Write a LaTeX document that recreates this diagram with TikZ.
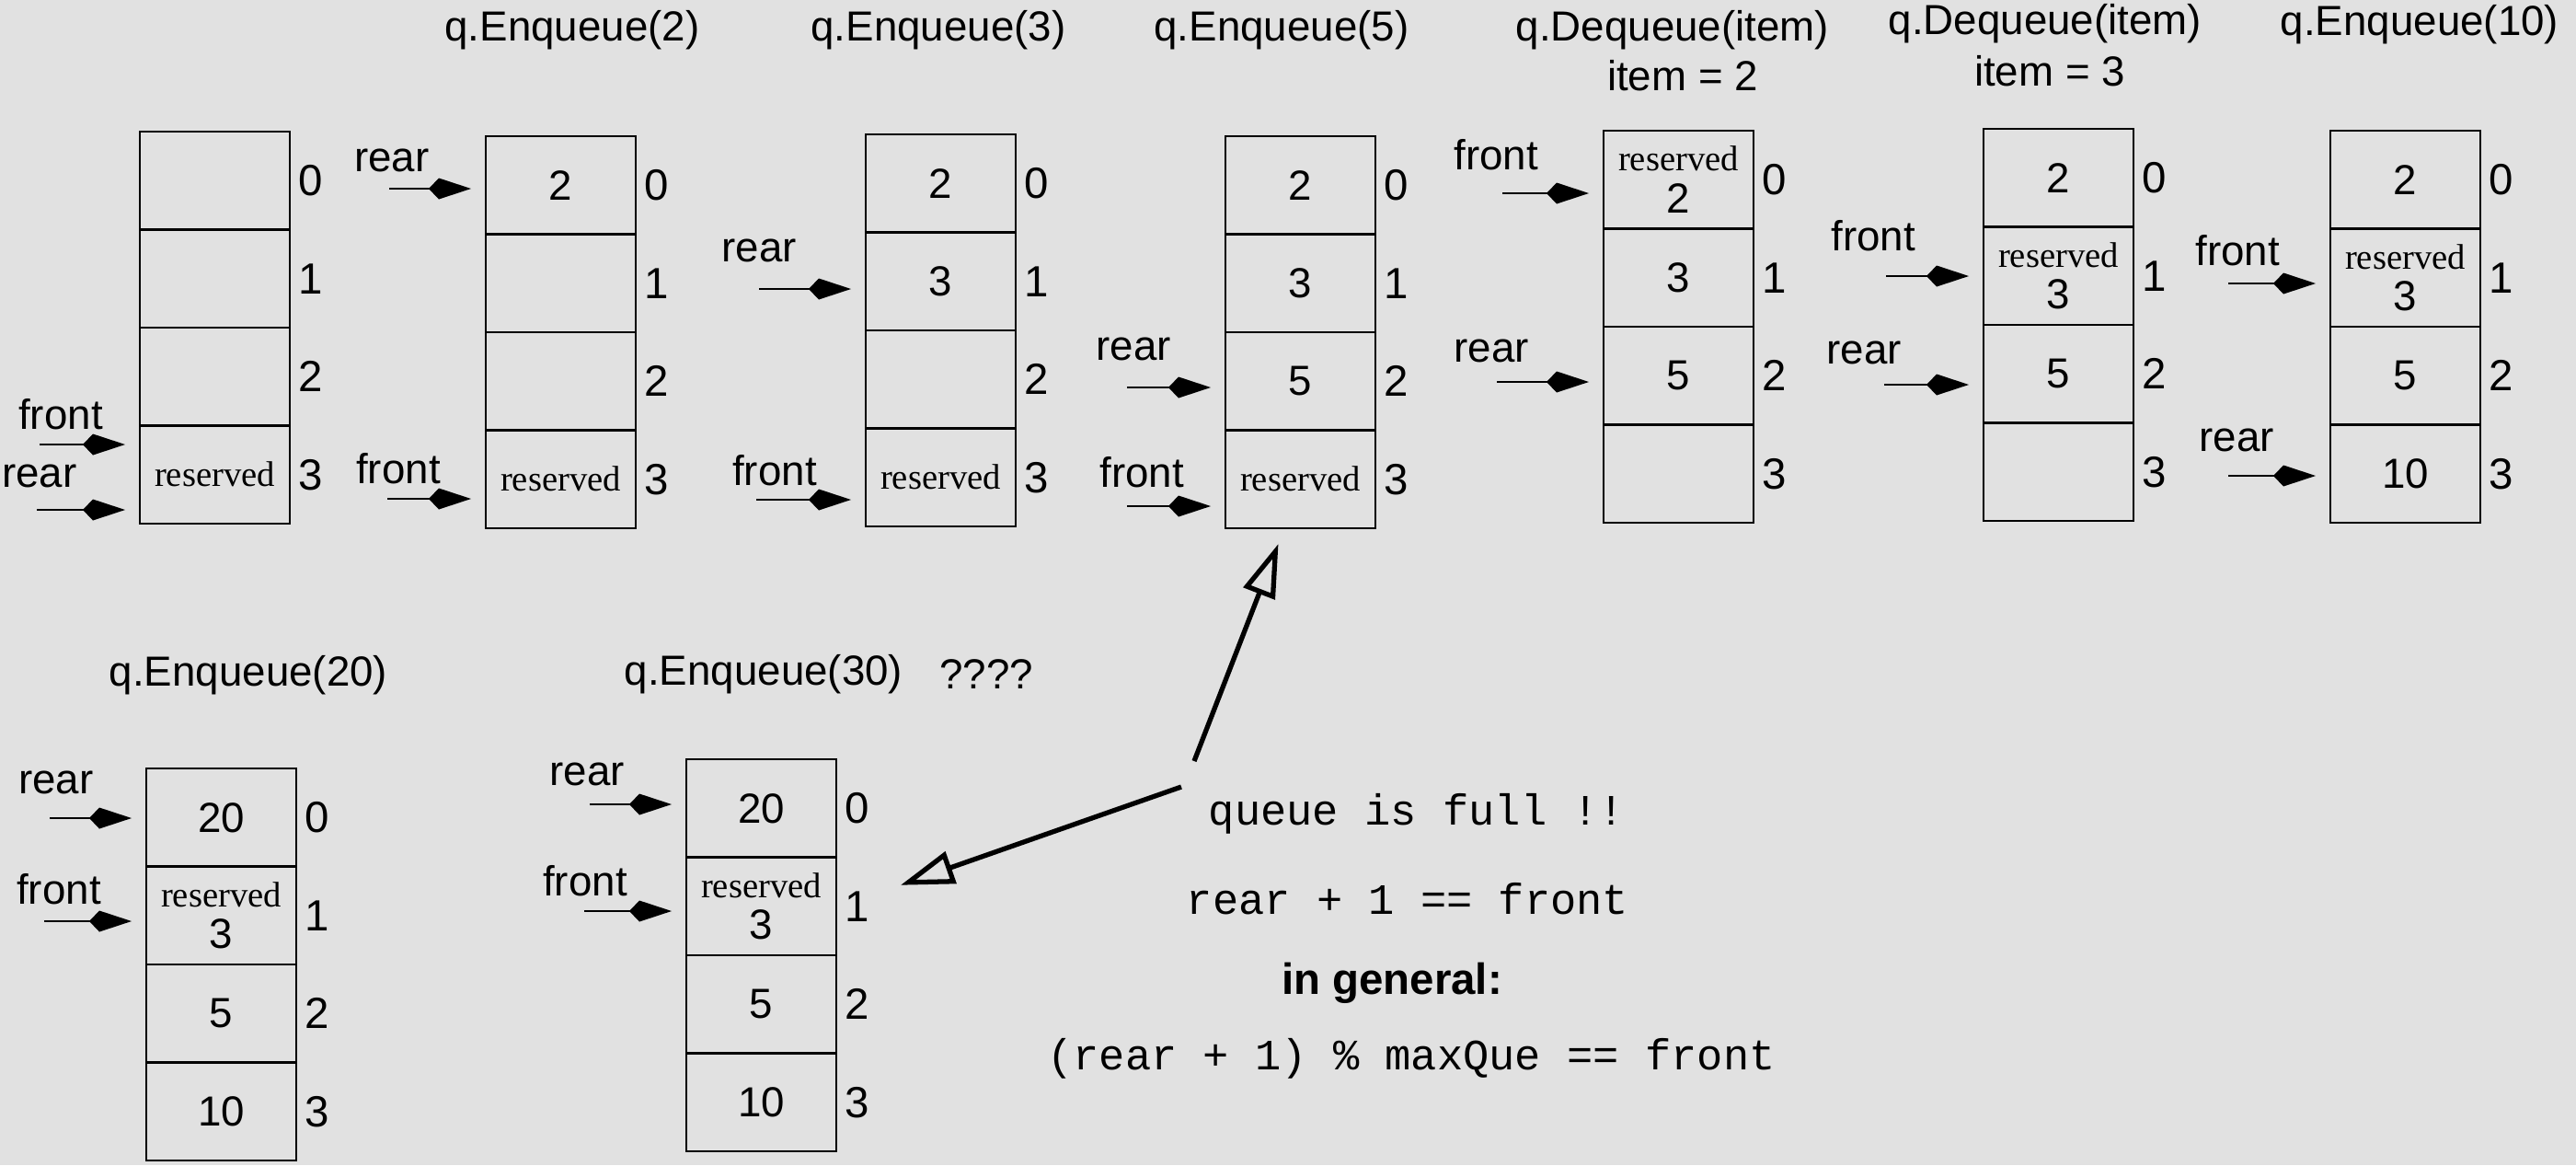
\documentclass[tikz,border=0pt]{standalone}
\usepackage{fontspec}
\setmainfont{Liberation Sans}
\setmonofont{Liberation Mono}
\newfontfamily\resfont{Liberation Serif}
\usetikzlibrary{arrows.meta, positioning}
\definecolor{bggray}{RGB}{225,225,225}

% small serif word in a slot
\newcommand{\resv}{{\resfont\fontsize{11}{12}\selectfont reserved}}

% one queue column: name, top-left corner, four slots
\newcommand{\qcol}[6]{%
  \node[cell, anchor=north west] (#1-0) at (#2) {#3};
  \node[cell, below=0pt of #1-0] (#1-1) {#4};
  \node[cell, below=0pt of #1-1] (#1-2) {#5};
  \node[cell, below=0pt of #1-2] (#1-3) {#6};
  \foreach \i in {0,...,3} \node[idx, right=0.06cm of #1-\i] (#1-i\i) {\i};
}

% pointer: name, text, label position, tail position, target slot
\newcommand{\qptr}[5]{%
  \node[lbl] (#1) at (#3) {#2};
  \coordinate (#1-t) at (#4);
  \draw[ptr] (#1-t) -- (#1-t -| #5.west);
}

\begin{document}
\begin{tikzpicture}[
  cell/.style={draw, line width=0.8pt, minimum width=1.63cm, minimum height=1.065cm,
    inner sep=0pt, outer sep=0pt, align=center, font=\fontsize{13}{14}\selectfont},
  idx/.style={inner sep=0.03cm, font=\fontsize{13.5}{14}\selectfont},
  lbl/.style={inner sep=0pt, font=\fontsize{13}{14}\selectfont},
  title/.style={inner sep=0pt, font=\fontsize{13}{14}\selectfont},
  code/.style={inner sep=0pt, font=\ttfamily\fontsize{13.4}{15}\selectfont},
  ptr/.style={line width=0.6pt, -{Kite[length=0.46cm, width=0.23cm, inset=0.11cm]}, shorten >=0.16cm},
  fullarr/.style={line width=1.5pt, -{Triangle[open, length=0.58cm, width=0.36cm]}}
]

  % background
  \fill[bggray] (0,0) rectangle (28,-12.66);
  \useasboundingbox (0,0) rectangle (28,-12.66);

  % titles
  \node[title] (t2) at (6.22,-0.33) {q.Enqueue(2)};
  \node[title] (t3) at (10.20,-0.33) {q.Enqueue(3)};
  \node[title] (t4) at (13.93,-0.33) {q.Enqueue(5)};
  \node[title] (t5) at (18.18,-0.33) {q.Dequeue(item)};
  \node[title] (t5b) at (18.29,-0.82) {item = 2};
  \node[title] (t6) at (22.23,-0.26) {q.Dequeue(item)};
  \node[title] (t6b) at (22.28,-0.77) {item = 3};
  \node[title] (t7) at (26.30,-0.27) {q.Enqueue(10)};
  \node[title] (t8) at (2.70,-7.34) {q.Enqueue(20)};
  \node[title] (t9) at (8.30,-7.33) {q.Enqueue(30)};
  \node[title] (t9b) at (10.72,-7.33) {????};

  % queue columns
  \qcol{q1}{1.52,-1.43}{}{}{}{\resv}
  \qcol{q2}{5.28,-1.48}{2}{}{}{\resv}
  \qcol{q3}{9.41,-1.46}{2}{3}{}{\resv}
  \qcol{q4}{13.32,-1.48}{2}{3}{5}{\resv}
  \qcol{q5}{17.43,-1.42}{\resv\\[-1pt]2}{3}{5}{}
  \qcol{q6}{21.56,-1.40}{2}{\resv\\[-1pt]3}{5}{}
  \qcol{q7}{25.33,-1.42}{2}{\resv\\[-1pt]3}{5}{10}
  \qcol{q8}{1.59,-8.35}{20}{\resv\\[-1pt]3}{5}{10}
  \qcol{q9}{7.46,-8.25}{20}{\resv\\[-1pt]3}{5}{10}

  % front and rear pointers
  \qptr{q1f}{front}{0.66,-4.50}{0.43,-4.83}{q1-3}
  \qptr{q1r}{rear}{0.43,-5.17}{0.40,-5.54}{q1-3}
  \qptr{q2r}{rear}{4.26,-1.74}{4.23,-2.05}{q2-0}
  \qptr{q2f}{front}{4.33,-5.09}{4.21,-5.42}{q2-3}
  \qptr{q3r}{rear}{8.25,-2.72}{8.25,-3.14}{q3-1}
  \qptr{q3f}{front}{8.42,-5.11}{8.22,-5.43}{q3-3}
  \qptr{q4r}{rear}{12.32,-3.79}{12.25,-4.21}{q4-2}
  \qptr{q4f}{front}{12.41,-5.13}{12.25,-5.50}{q4-3}
  \qptr{q5f}{front}{16.26,-1.68}{16.33,-2.10}{q5-0}
  \qptr{q5r}{rear}{16.21,-3.81}{16.27,-4.15}{q5-2}
  \qptr{q6f}{front}{20.36,-2.56}{20.50,-3.00}{q6-1}
  \qptr{q6r}{rear}{20.26,-3.83}{20.48,-4.18}{q6-2}
  \qptr{q7f}{front}{24.32,-2.72}{24.22,-3.08}{q7-1}
  \qptr{q7r}{rear}{24.31,-4.78}{24.22,-5.17}{q7-3}
  \qptr{q8r}{rear}{0.61,-8.50}{0.54,-8.89}{q8-0}
  \qptr{q8f}{front}{0.64,-9.66}{0.48,-10.01}{q8-1}
  \qptr{q9r}{rear}{6.38,-8.41}{6.41,-8.74}{q9-0}
  \qptr{q9f}{front}{6.36,-9.57}{6.35,-9.90}{q9-1}

  % full condition
  \node[code] (full) at (15.40,-8.84) {queue is full !!};
  \node[code] (cond) at (15.30,-9.77) {rear + 1 == front};
  \node[inner sep=0pt, font=\bfseries\fontsize{13.5}{15}\selectfont] (gen) at (15.13,-10.68) {in general:};
  \node[code] (gcond) at (15.34,-11.50) {(rear + 1) \% maxQue == front};

  % arrows to the two full queues
  \coordinate (full-up) at (12.98,-8.27);
  \coordinate (full-dn) at (12.84,-8.55);
  \draw[fullarr] (full-up) -- ([xshift=-0.24cm, yshift=-0.17cm]q4-3.south);
  \draw[fullarr] (full-dn) -- ([xshift=0.70cm, yshift=0.23cm]q9-1.east);

\end{tikzpicture}
\end{document}
